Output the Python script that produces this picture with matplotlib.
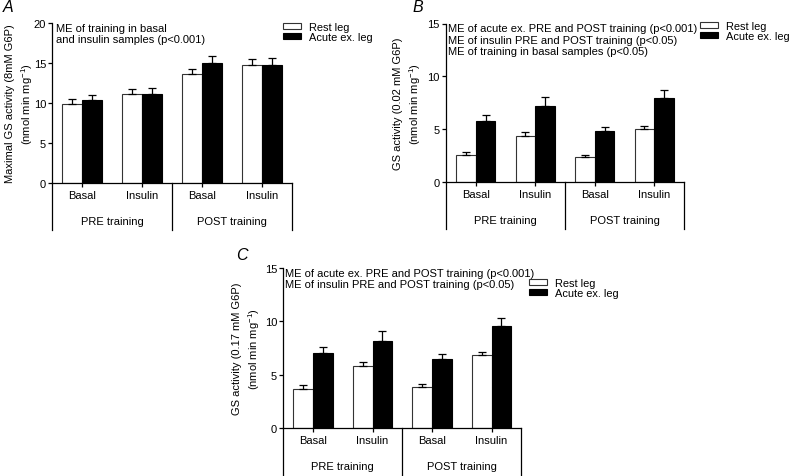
import matplotlib
matplotlib.use("Agg")
import matplotlib.pyplot as plt
from matplotlib.transforms import blended_transform_factory

plt.rcParams['font.family'] = ['Liberation Sans', 'DejaVu Sans']
plt.rcParams['mathtext.fontset'] = 'custom'
plt.rcParams['mathtext.rm'] = 'Liberation Sans'
plt.rcParams['mathtext.it'] = 'Liberation Sans:italic'

W, H = 792, 477
FS = 8.0

conditions = ["Basal", "Insulin", "Basal", "Insulin"]
phases = ["PRE training", "POST training"]
series = ["Rest leg", "Acute ex. leg"]

# panel A: maximal GS activity
a_rest = [9.9, 11.1, 13.6, 14.75]
a_rest_err = [0.65, 0.6, 0.7, 0.75]
a_acute = [10.4, 11.1, 15.0, 14.75]
a_acute_err = [0.55, 0.8, 0.85, 0.9]

# panel B: GS activity at 0.02 mM G6P
b_rest = [2.6, 4.4, 2.4, 5.0]
b_rest_err = [0.22, 0.33, 0.22, 0.3]
b_acute = [5.8, 7.2, 4.8, 8.0]
b_acute_err = [0.6, 0.85, 0.4, 0.7]

# panel C: GS activity at 0.17 mM G6P
c_rest = [3.7, 5.8, 3.8, 6.8]
c_rest_err = [0.3, 0.35, 0.35, 0.35]
c_acute = [7.0, 8.2, 6.45, 9.6]
c_acute_err = [0.6, 0.85, 0.45, 0.7]

fig = plt.figure(figsize=(W / 100, H / 100), dpi=100)


def px_axes(l, r, t, b):
    return fig.add_axes([l / W, 1 - b / H, (r - l) / W, (b - t) / H])


def panel(box, ymax, rest, rerr, acute, aerr, ylabel, note, letter, letter_xy,
          leg_xy, note_dx, ylab_dx):
    l, r, t, b = box
    ax = px_axes(l, r, t, b)
    hpx = b - t
    x = list(range(len(conditions)))
    w = 0.33
    xr = [i - w / 2 for i in x]
    xa = [i + w / 2 for i in x]
    h1 = ax.bar(xr, rest, w, color="white", edgecolor="#333333", linewidth=0.8,
                label=series[0], zorder=2)
    h2 = ax.bar(xa, acute, w, color="black", edgecolor="black", linewidth=0.8,
                label=series[1], zorder=2)
    ax.errorbar(xr, rest, yerr=[[0] * 4, rerr], fmt="none", ecolor="black",
                elinewidth=0.9, capsize=3, capthick=0.9, zorder=3)
    ax.errorbar(xa, acute, yerr=[[0] * 4, aerr], fmt="none", ecolor="black",
                elinewidth=0.9, capsize=3, capthick=0.9, zorder=3)

    ax.set_xlim(-0.5, 3.5)
    ax.set_ylim(0, ymax)
    ax.set_yticks(range(0, ymax + 1, 5))
    ax.set_xticks(x)
    ax.set_xticklabels(conditions, fontsize=FS)
    ax.tick_params(axis="y", labelsize=FS, length=3, width=0.9, pad=1.5)
    ax.tick_params(axis="x", length=3, width=0.9, pad=2)
    for s in ["top", "right"]:
        ax.spines[s].set_visible(False)
    for s in ["left", "bottom"]:
        ax.spines[s].set_linewidth(0.9)

    tr = blended_transform_factory(ax.transData, ax.transAxes)
    for xv in [-0.5, 1.5, 3.5]:
        ax.plot([xv, xv], [0, -47 / hpx], color="black", lw=0.9,
                transform=tr, clip_on=False)
    for k, ph in enumerate(phases):
        ax.text(0.5 + 2 * k, -38 / hpx, ph, transform=tr, ha="center",
                va="center", fontsize=FS)

    ax.set_ylabel(ylabel, fontsize=FS, linespacing=1.35)
    ax.yaxis.set_label_coords(-ylab_dx / (r - l), 0.5)
    ax.text(note_dx / (r - l), 1.0, note, transform=ax.transAxes, ha="left",
            va="top", fontsize=FS, linespacing=1.15)
    fig.text(letter_xy[0] / W, 1 - letter_xy[1] / H, letter, fontsize=11.5,
             style="italic", ha="center", va="center")
    ax.legend(handles=[h1, h2], loc="upper left",
              bbox_to_anchor=(leg_xy[0] / W, 1 - leg_xy[1] / H),
              bbox_transform=fig.transFigure, frameon=False, fontsize=7.9,
              handlelength=1.6, handleheight=0.45, handletextpad=0.75,
              labelspacing=0.0, borderpad=0, borderaxespad=0)
    return ax


panel((52.3, 292, 24, 184), 20, a_rest, a_rest_err, a_acute, a_acute_err,
      "Maximal GS activity (8mM G6P)\n(nmol min mg$^{-1}$)",
      "ME of training in basal\nand insulin samples (p<0.001)",
      "A", (8, 8), (283, 23), 4, 17.5)

panel((446, 684, 24.5, 183.3), 15, b_rest, b_rest_err, b_acute, b_acute_err,
      "GS activity (0.02 mM G6P)\n(nmol min mg$^{-1}$)",
      "ME of acute ex. PRE and POST training (p<0.001)\n"
      "ME of insulin PRE and POST training (p<0.05)\n"
      "ME of training in basal samples (p<0.05)",
      "B", (418, 8), (700, 22), 1.5, 23)

panel((283.3, 521.3, 269, 429), 15, c_rest, c_rest_err, c_acute, c_acute_err,
      "GS activity (0.17 mM G6P)\n(nmol min mg$^{-1}$)",
      "ME of acute ex. PRE and POST training (p<0.001)\n"
      "ME of insulin PRE and POST training (p<0.05)",
      "C", (242, 256), (529, 279), 1.5, 21)

fig.savefig("out.png", dpi=100)
